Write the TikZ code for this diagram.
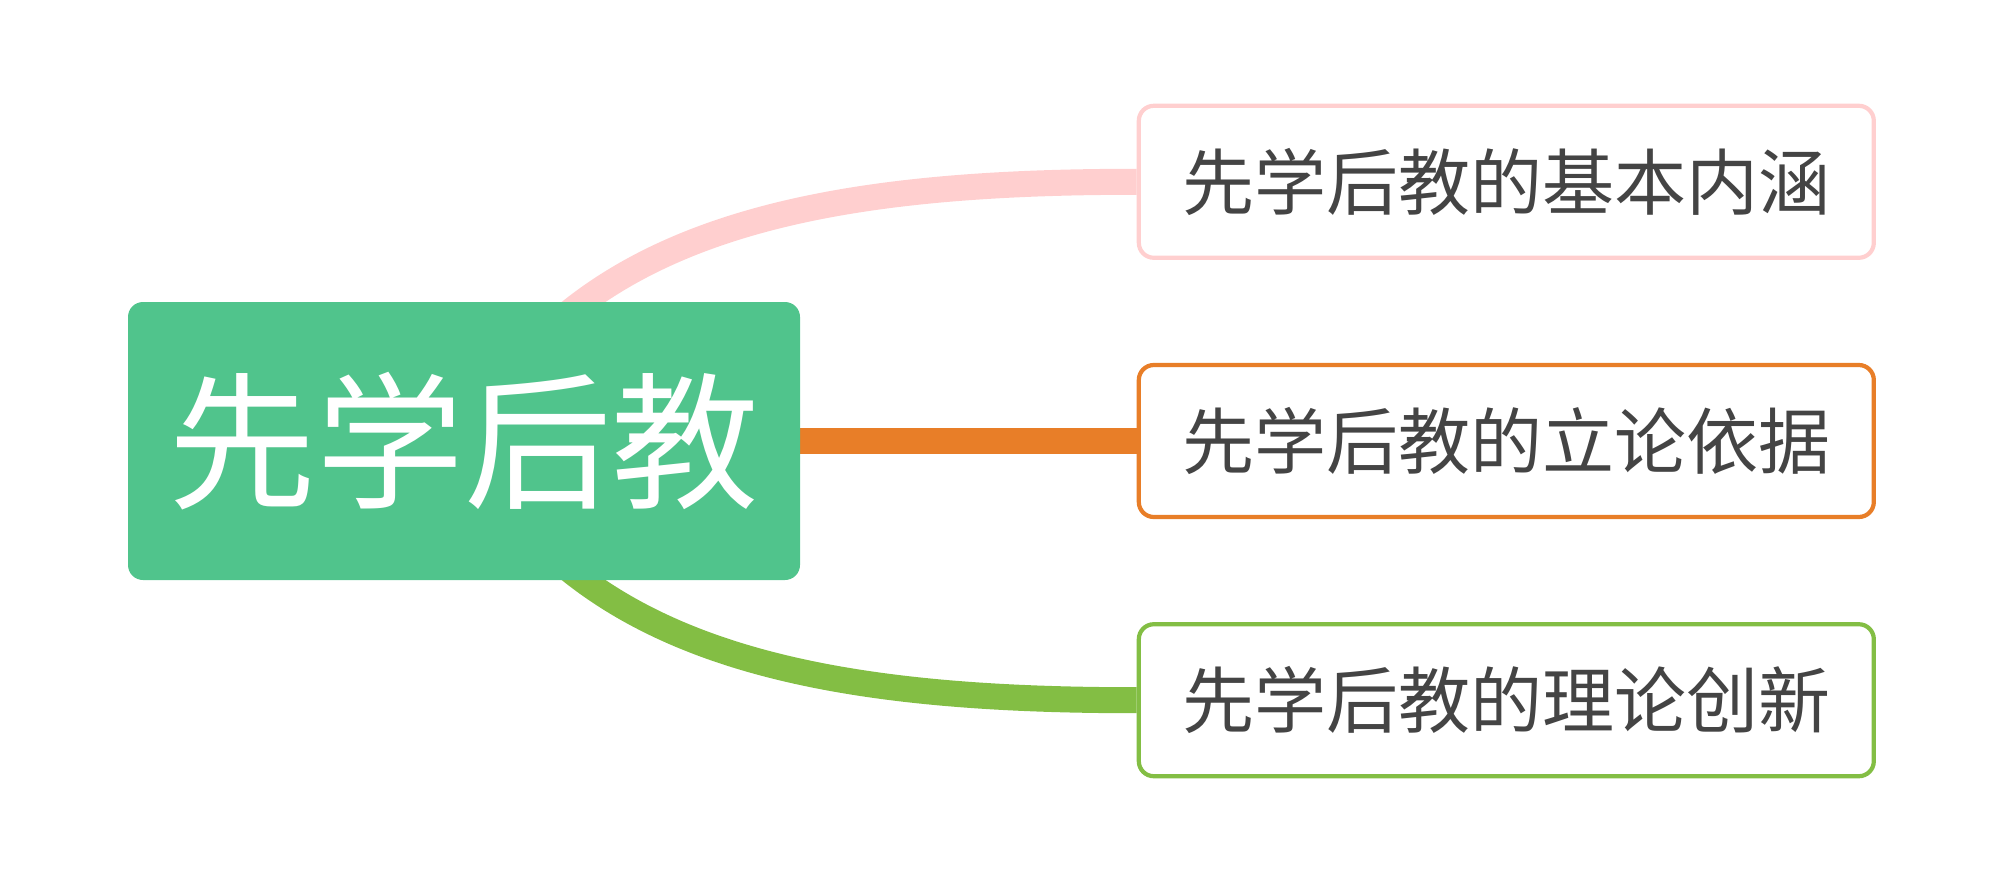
\documentclass[tikz,border=0pt]{standalone}
\usepackage{fontspec}
\setmainfont{Noto Sans CJK SC}
\usetikzlibrary{positioning, backgrounds}
\definecolor{mRootGreen}{HTML}{50C48C}
\definecolor{mPink}{HTML}{FFCFCF}
\definecolor{mOrange}{HTML}{E87E28}
\definecolor{mLeafGreen}{HTML}{83BE44}
\definecolor{mTextGray}{HTML}{444444}

\begin{document}
\begin{tikzpicture}[node distance=1.03cm and 3.36cm,
    leaf/.style={draw, rounded corners=0.15cm, line width=1.2pt, minimum width=7.35cm, minimum height=1.52cm, fill=white, text=mTextGray, font=\fontsize{20.5}{24}\selectfont},
    branch/.style={line width=7.4pt}]
      \useasboundingbox (0,0) rectangle (20,8.82);
      \node[rounded corners=0.15cm, minimum width=6.72cm, minimum height=2.78cm, fill=mRootGreen, text=white, font=\fontsize{42}{50}\selectfont] (root) at (4.64,4.41) {先学后教};
      \node[leaf, draw=mOrange, right=of root] (basis) {先学后教的立论依据};
      \node[leaf, draw=mPink, above=of basis] (meaning) {先学后教的基本内涵};
      \node[leaf, draw=mLeafGreen, below=of basis] (innov) {先学后教的理论创新};
      \begin{pgfonlayer}{background}
        \draw[branch, mPink] (root.center) to[out=62, in=180, out looseness=0.85, in looseness=1.15] (meaning.west);
        \draw[branch, mOrange] (root.center) -- (basis.west);
        \draw[branch, mLeafGreen] (root.center) to[out=-62, in=180, out looseness=0.85, in looseness=1.15] (innov.west);
      \end{pgfonlayer}
    \end{tikzpicture}
\end{document}
